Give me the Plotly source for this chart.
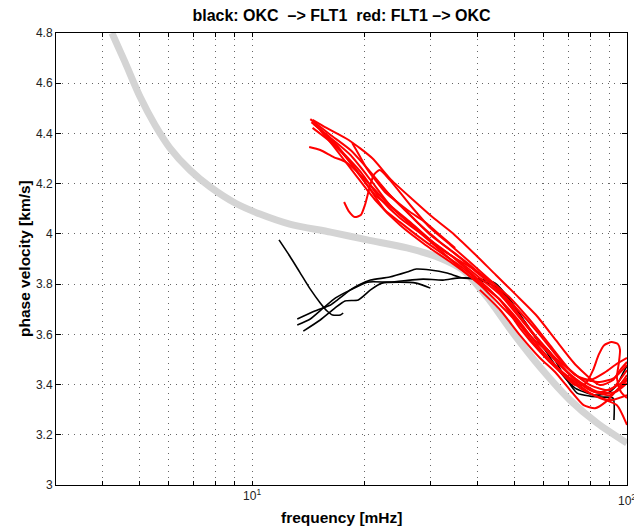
import plotly.graph_objects as go

# Reference dispersion curve (grey)
ref_f = [4.23, 4.58, 5.03, 5.51, 6.04, 6.83, 7.73, 9.01, 10.5, 12.6, 16.2, 20.3, 25.9,
         31.7, 36.5, 42.3, 49.7, 58.6, 70.5, 83.2, 100.0]
ref_v = [4.80, 4.685, 4.545, 4.434, 4.342, 4.254, 4.187, 4.123, 4.079, 4.039, 4.007, 3.976,
         3.944, 3.904, 3.856, 3.749, 3.605, 3.470, 3.338, 3.247, 3.167]

# black: OKC -> FLT1 measurements
okc_f1 = [11.8, 12.6, 13.4, 14.3, 15.2, 15.85, 16.4, 17.2, 17.5]
okc_v1 = [3.976, 3.912, 3.848, 3.780, 3.725, 3.693, 3.677, 3.677, 3.685]

okc_f2 = [13.7, 15.2, 16.65, 17.7, 19.2, 20.7, 22.2, 24.8, 27.4, 29.9]
okc_v2 = [3.613, 3.657, 3.705, 3.733, 3.737, 3.777, 3.804, 3.808, 3.804, 3.784]

okc_f3 = [13.2, 14.7, 16.2, 16.9, 18.3, 19.2, 20.7, 23.3, 25.9, 27.4, 29.9, 33.1,
          36.5, 40.5, 44.5, 48.8, 53.5, 58.6, 62.3, 68.3, 73.6, 79.7, 86.3, 91.8, 92.3]
okc_v3 = [3.661, 3.693, 3.717, 3.737, 3.777, 3.796, 3.816, 3.828, 3.848, 3.860, 3.856,
          3.844, 3.824, 3.820, 3.804, 3.737, 3.649, 3.565, 3.530, 3.430, 3.366, 3.354,
          3.350, 3.346, 3.259]

okc_f4 = [13.2, 14.3, 15.5, 16.7, 18.3, 20.3, 23.3, 26.4, 28.6, 32.3, 35.2, 38.1,
          41.8, 45.9, 50.3, 55.1, 60.4, 66.3, 72.7, 82.2, 89.0, 94.0, 97.0, 100.0]
okc_v4 = [3.637, 3.661, 3.705, 3.745, 3.777, 3.808, 3.808, 3.816, 3.820, 3.816, 3.824,
          3.824, 3.808, 3.777, 3.697, 3.617, 3.538, 3.450, 3.386, 3.358, 3.366, 3.398,
          3.438, 3.474]

black_f = [okc_f1, okc_f2, okc_f3, okc_f4]
black_v = [okc_v1, okc_v2, okc_v3, okc_v4]

# red: FLT1 -> OKC measurements
flt_f1 = [14.3, 16.2, 18.3, 20.7, 23.3, 26.4, 29.9, 33.8, 38.1, 43.1, 48.8, 55.1, 62.3, 70.5, 79.7, 90.1, 100.0]
flt_v1 = [4.457, 4.394, 4.334, 4.246, 4.155, 4.075, 3.996, 3.936, 3.876, 3.804, 3.717, 3.617, 3.518, 3.438, 3.378, 3.358, 3.418]

flt_f2 = [14.4, 16.2, 18.3, 20.7, 23.3, 26.4, 29.9, 33.8, 38.1, 43.1, 48.8, 55.1, 62.3, 70.5, 79.7, 90.1, 100.0]
flt_v2 = [4.445, 4.382, 4.314, 4.215, 4.115, 4.047, 3.976, 3.916, 3.848, 3.777, 3.689, 3.585, 3.490, 3.426, 3.366, 3.338, 3.358]

flt_f3 = [14.5, 16.2, 18.3, 20.7, 22.6, 24.8, 28.1, 31.7, 35.9, 40.5, 45.9, 51.8, 58.6, 66.3, 75.0, 84.7, 94.0, 100.0]
flt_v3 = [4.422, 4.366, 4.286, 4.175, 4.095, 4.047, 3.984, 3.928, 3.872, 3.808, 3.737, 3.649, 3.545, 3.458, 3.386, 3.346, 3.318, 3.239]

flt_f4 = [14.2, 15.2, 16.5, 17.8, 19.5, 21.9, 24.8, 28.1, 31.7, 35.9, 40.5, 45.9, 51.8, 58.6, 66.3, 75.0, 84.7, 95.8, 100.0]
flt_v4 = [4.346, 4.334, 4.306, 4.286, 4.234, 4.155, 4.075, 4.007, 3.944, 3.888, 3.824, 3.757, 3.665, 3.569, 3.478, 3.410, 3.370, 3.402, 3.438]

flt_f5 = [17.6, 18.1, 18.8, 19.5, 20.0, 20.5, 21.1, 21.9, 23.3, 26.4, 29.9, 33.8, 38.1, 43.1, 48.8, 55.1, 62.3, 70.5, 79.7, 90.1, 100.0]
flt_v5 = [4.127, 4.091, 4.067, 4.075, 4.115, 4.175, 4.234, 4.254, 4.215, 4.115, 4.023, 3.956, 3.888, 3.816, 3.745, 3.657, 3.557, 3.458, 3.398, 3.378, 3.458]

flt_f6 = [18.5, 19.3, 20.2, 21.3, 22.6, 24.0, 26.4, 28.9, 31.7, 34.8]
flt_v6 = [4.362, 4.314, 4.262, 4.215, 4.167, 4.135, 4.087, 4.047, 3.996, 3.944]

flt_f7 = [14.6, 16.8, 18.9, 21.3, 24.0, 27.2, 30.8, 34.8, 39.3, 44.5, 50.3, 56.8, 64.3, 72.7, 82.2, 93.0, 100.0]
flt_v7 = [4.438, 4.354, 4.254, 4.155, 4.095, 4.023, 3.956, 3.904, 3.856, 3.797, 3.697, 3.597, 3.506, 3.418, 3.370, 3.370, 3.406]

flt_f8 = [14.9, 16.8, 18.9, 21.3, 24.8, 29.0, 33.8, 39.3, 45.9, 51.8, 58.6, 66.3, 72.7, 77.3, 81.2, 84.0, 86.9, 91.0, 94.6, 95.8, 95.2, 94.0, 96.4, 100.0]
flt_v8 = [4.430, 4.334, 4.234, 4.135, 4.035, 3.956, 3.888, 3.816, 3.737, 3.625, 3.530, 3.450, 3.398, 3.402, 3.458, 3.518, 3.557, 3.569, 3.561, 3.538, 3.490, 3.426, 3.370, 3.346]

flt_f9 = [15.2, 17.2, 19.5, 21.9, 24.8, 28.1, 31.7, 35.9, 40.5, 45.9, 51.8, 58.6, 66.3, 75.0, 84.7, 92.3, 100.0]
flt_v9 = [4.414, 4.334, 4.246, 4.143, 4.063, 4.003, 3.936, 3.864, 3.797, 3.717, 3.637, 3.557, 3.490, 3.426, 3.410, 3.426, 3.478]

flt_f10 = [21.9, 24.8, 28.1, 31.7, 35.9, 40.5, 45.9, 51.8, 58.6, 66.3, 72.7, 79.7, 87.6, 93.0, 100.0]
flt_v10 = [4.195, 4.115, 4.035, 3.968, 3.904, 3.836, 3.769, 3.689, 3.597, 3.498, 3.438, 3.418, 3.450, 3.478, 3.506]

flt_f11 = [14.5, 15.8, 18.1, 20.9, 23.5, 26.9, 30.5, 34.7, 39.5, 44.7, 50.6, 57.2, 64.6, 73.0, 84.7, 91.8, 95.8, 100.0]
flt_v11 = [4.454, 4.422, 4.374, 4.302, 4.215, 4.135, 4.063, 3.996, 3.916, 3.836, 3.757, 3.677, 3.577, 3.478, 3.398, 3.418, 3.458, 3.490]

flt_f12 = [40.5, 45.9, 51.8, 58.6, 64.3, 70.5, 76.6, 82.2, 87.6, 94.0, 100.0]
flt_v12 = [3.777, 3.697, 3.597, 3.506, 3.450, 3.378, 3.318, 3.306, 3.330, 3.378, 3.426]

red_f = [flt_f1, flt_f2, flt_f3, flt_f4, flt_f5, flt_f6, flt_f7, flt_f8, flt_f9,
         flt_f10, flt_f11, flt_f12]
red_v = [flt_v1, flt_v2, flt_v3, flt_v4, flt_v5, flt_v6, flt_v7, flt_v8, flt_v9,
         flt_v10, flt_v11, flt_v12]

# axis ticks
x_tick_vals = [3, 4, 5, 6, 7, 8, 9, 10, 20, 30, 40, 50, 60, 70, 80, 90, 100]
x_tick_text = ["", "", "", "", "", "", "", "10<sup>1</sup>", "", "", "", "", "", "", "", "", ""]
x_edge_label = "10<sup>2</sup>"
y_tick_vals = [3.0, 3.2, 3.4, 3.6, 3.8, 4.0, 4.2, 4.4, 4.6, 4.8]
y_tick_text = ["3", "3.2", "3.4", "3.6", "3.8", "4", "4.2", "4.4", "4.6", "4.8"]

fig = go.Figure()

fig.add_trace(go.Scatter(x=ref_f, y=ref_v, mode="lines",
                         line=dict(color="#d4d4d4", width=7, shape="spline", smoothing=0.8),
                         showlegend=False, hoverinfo="skip"))

for f, v in zip(black_f, black_v):
    fig.add_trace(go.Scatter(x=f, y=v, mode="lines",
                             line=dict(color="black", width=1.6, shape="spline", smoothing=0.6),
                             showlegend=False))

for f, v in zip(red_f, red_v):
    fig.add_trace(go.Scatter(x=f, y=v, mode="lines",
                             line=dict(color="#ff0000", width=2, shape="spline", smoothing=0.6),
                             showlegend=False))

font_main = "Liberation Sans, Arial, Helvetica, sans-serif"
grid_style = dict(showgrid=True, gridcolor="#666666", griddash="1px,5px", gridwidth=1)

fig.update_layout(
    width=634, height=527,
    margin=dict(l=56, r=7, t=33, b=42),
    paper_bgcolor="white", plot_bgcolor="white",
    font=dict(family=font_main, size=12, color="#222222"),
    title=dict(text="<b>black: OKC\u00a0 \u2013> FLT1\u00a0 red: FLT1 \u2013> OKC</b>",
               x=0.5, xref="paper", xanchor="center",
               y=1 - 15 / 527, yref="container", yanchor="middle",
               font=dict(size=16, color="black", family=font_main)),
    xaxis=dict(type="log", range=[0.4771, 2.0],
               tickvals=x_tick_vals, ticktext=x_tick_text,
               ticks="inside", ticklen=4, tickcolor="black",
               showline=True, linecolor="black", linewidth=1, mirror="allticks",
               zeroline=False, tickfont=dict(size=12, color="#222222"), **grid_style),
    yaxis=dict(range=[3.0, 4.8],
               tickvals=y_tick_vals, ticktext=y_tick_text,
               ticks="inside", ticklen=5, tickcolor="black",
               showline=True, linecolor="black", linewidth=1, mirror="allticks",
               zeroline=False, tickfont=dict(size=12, color="#222222"), **grid_style),
    annotations=[
        dict(text=x_edge_label, xref="paper", yref="paper",
             x=1.0, y=-0.012, xanchor="center", yanchor="top", showarrow=False,
             font=dict(size=12, color="#222222", family=font_main)),
        dict(text="<b>frequency [mHz]</b>", xref="paper", yref="paper",
             x=0.5, y=-0.048, xanchor="center", yanchor="top", showarrow=False,
             font=dict(size=15.5, color="black", family=font_main)),
        dict(text="<b>phase velocity [km/s]</b>", xref="paper", yref="paper",
             x=-0.056, y=0.5, xanchor="center", yanchor="middle", textangle=-90,
             showarrow=False, font=dict(size=15.5, color="black", family=font_main)),
    ],
)

fig.write_html("out.html")
